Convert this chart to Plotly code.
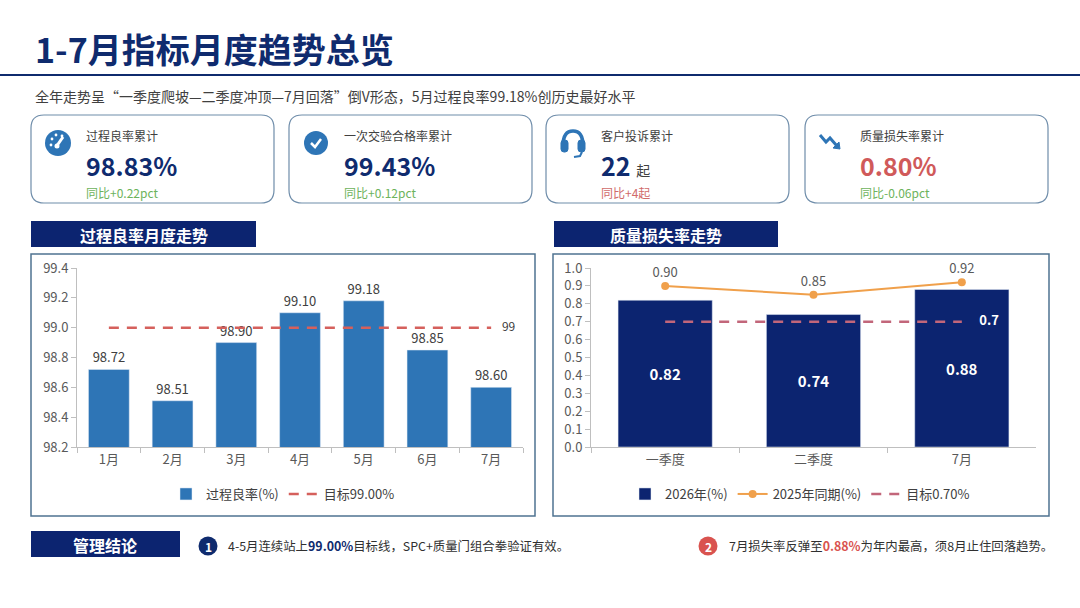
import plotly.graph_objects as go

# ---- data ----
months = ['1月', '2月', '3月', '4月', '5月', '6月', '7月']
yield_rate = [98.72, 98.51, 98.90, 99.10, 99.18, 98.85, 98.60]
yield_target = 99.0

periods = ['一季度', '二季度', '7月']
loss_2026 = [0.82, 0.74, 0.88]
loss_2025 = [0.90, 0.85, 0.92]
loss_target = 0.7

kpi_names = ['过程良率累计', '一次交验合格率累计', '客户投诉累计', '质量损失率累计']
kpi_values = ['98.83%', '99.43%', '22', '0.80%']
kpi_units = ['', '', '起', '']
kpi_changes = ['同比+0.22pct', '同比+0.12pct', '同比+4起', '同比-0.06pct']

W, H = 1080, 608
NAVY = '#0F2B6E'
BLUE = '#2E75B6'
BAR_NAVY = '#0C2470'
RED = '#D9534F'
GREEN = '#6DB35C'
GREY = '#595959'
FONT = 'Noto Sans CJK SC'


def px(x):
    return x / W


def py(y):
    return 1 - y / H


def pt(x, y):
    return f'{px(x):.5f},{py(y):.5f}'


def rrect(x0, y0, x1, y1, r):
    return ('M ' + pt(x0 + r, y0) + ' L ' + pt(x1 - r, y0) + ' Q ' + pt(x1, y0) + ' ' + pt(x1, y0 + r)
            + ' L ' + pt(x1, y1 - r) + ' Q ' + pt(x1, y1) + ' ' + pt(x1 - r, y1)
            + ' L ' + pt(x0 + r, y1) + ' Q ' + pt(x0, y1) + ' ' + pt(x0, y1 - r)
            + ' L ' + pt(x0, y0 + r) + ' Q ' + pt(x0, y0) + ' ' + pt(x0 + r, y0) + ' Z')


shapes = []
annotations = []


def rect(x0, y0, x1, y1, fill=None, line=None, lw=1.5):
    shapes.append(dict(type='rect', xref='paper', yref='paper', x0=px(x0), x1=px(x1), y0=py(y1), y1=py(y0),
                       fillcolor=fill or 'rgba(0,0,0,0)', line=dict(color=line or 'rgba(0,0,0,0)', width=lw if line else 0),
                       layer='below'))


def circle(cx, cy, r, fill, line=None, lw=0):
    shapes.append(dict(type='circle', xref='paper', yref='paper', x0=px(cx - r), x1=px(cx + r),
                       y0=py(cy + r), y1=py(cy - r), fillcolor=fill,
                       line=dict(color=line or fill, width=lw), layer='above'))


def seg(points, color, width, fill=None):
    path = 'M ' + ' L '.join(pt(x, y) for x, y in points)
    if fill:
        path += ' Z'
    shapes.append(dict(type='path', xref='paper', yref='paper', path=path,
                       line=dict(color=color, width=width), fillcolor=fill or 'rgba(0,0,0,0)', layer='above'))


def text(x, y, s, size=12, color='#404040', anchor='left', bold=False):
    annotations.append(dict(xref='paper', yref='paper', x=px(x), y=py(y), text=f'<b>{s}</b>' if bold else s,
                            showarrow=False, xanchor=anchor, yanchor='middle',
                            font=dict(size=size, color=color, family=FONT)))


# ---- header ----
text(33, 48, '1-7月指标月度趋势总览', size=34, color=NAVY, bold=True)
shapes.append(dict(type='line', xref='paper', yref='paper', x0=0, x1=1, y0=py(75), y1=py(75),
                   line=dict(color=NAVY, width=2)))
text(33, 96, '全年走势呈“一季度爬坡—二季度冲顶—7月回落”倒V形态，5月过程良率99.18%创历史最好水平',
     size=14, color='#404040')

# ---- KPI cards ----
card_x = [31, 289, 546, 805]
value_colors = [NAVY, NAVY, NAVY, '#D05A5A']
change_colors = [GREEN, GREEN, '#D06A6A', GREEN]
for i, x0 in enumerate(card_x):
    shapes.append(dict(type='path', xref='paper', yref='paper', path=rrect(x0, 115, x0 + 243, 203, 13),
                       fillcolor='white', line=dict(color='#6F8DAA', width=1.2), layer='below'))
    text(x0 + 53, 135, kpi_names[i], size=12)
    val = f'<b>{kpi_values[i]}</b>'
    if kpi_units[i]:
        val += f' <span style="font-size:14px;color:#404040">{kpi_units[i]}</span>'
    text(x0 + 53, 165, val, size=25, color=value_colors[i])
    text(x0 + 53, 193, kpi_changes[i], size=12, color=change_colors[i])

# icon 1: gauge
circle(58, 143, 13, BLUE)
for dx, dy in [(-7, 2), (-6, -4), (-2, -8), (4, -7)]:
    circle(58 + dx, 143 + dy, 1.4, 'white')
seg([(56, 147), (63, 137)], 'white', 3)
circle(57, 146, 2.5, 'white')
# icon 2: check
circle(316, 143, 12, BLUE)
seg([(311, 143), (315, 147), (321, 139)], 'white', 2.5)
# icon 3: headset
shapes.append(dict(type='path', xref='paper', yref='paper',
                   path='M ' + pt(563, 146) + ' Q ' + pt(563, 131) + ' ' + pt(573, 131) + ' Q ' + pt(583, 131) + ' ' + pt(583, 146),
                   line=dict(color=BLUE, width=3.5), layer='above'))
shapes.append(dict(type='path', xref='paper', yref='paper', path=rrect(561, 140, 568, 152, 3),
                   fillcolor=BLUE, line=dict(color=BLUE, width=1), layer='above'))
shapes.append(dict(type='path', xref='paper', yref='paper', path=rrect(578, 140, 585, 152, 3),
                   fillcolor=BLUE, line=dict(color=BLUE, width=1), layer='above'))
seg([(582, 152), (580, 156), (574, 157)], BLUE, 2)
# icon 4: trending down arrow
seg([(820, 135), (826, 142), (830, 138), (837, 146)], BLUE, 3)
seg([(833, 148), (840, 149), (839, 142)], BLUE, 1, fill=BLUE)

# ---- section headers & panels ----
rect(31, 221, 256, 247, fill='#0C2470')
text(144, 235, '过程良率月度走势', size=16, color='white', anchor='center', bold=True)
rect(554, 221, 778, 247, fill='#0C2470')
text(666, 235, '质量损失率走势', size=16, color='white', anchor='center', bold=True)
rect(31, 254, 535, 516, line='#4F7391', lw=1.5)
rect(553, 254, 1049, 516, line='#4F7391', lw=1.5)

# ---- conclusions ----
rect(31, 531, 180, 557, fill='#0C2470')
text(105, 545, '管理结论', size=16, color='white', anchor='center', bold=True)
circle(208, 546, 9.5, NAVY)
text(208, 546, '1', size=12, color='white', anchor='center', bold=True)
text(226, 546, f'4-5月连续站上<b><span style="color:{NAVY}">99.00%</span></b>目标线，SPC+质量门组合拳验证有效。',
     size=12.4, color='#303030')
circle(708, 546, 9.5, RED)
text(708, 546, '2', size=12, color='white', anchor='center', bold=True)
text(727, 546, f'7月损失率反弹至<b><span style="color:{RED}">0.88%</span></b>为年内最高，须8月止住回落趋势。',
     size=12.4, color='#303030')

# ---- traces ----
fig = go.Figure()
fig.add_trace(go.Bar(x=months, y=yield_rate, name='过程良率(%)', marker_color=BLUE, width=0.64,
                     texttemplate='%{y:.2f}', textposition='outside', cliponaxis=False,
                     textfont=dict(size=13, color='#404040'), xaxis='x', yaxis='y', legend='legend'))
fig.add_trace(go.Scatter(x=months, y=[yield_target] * len(months), name='目标99.00%', mode='lines+text',
                         text=[''] * (len(months) - 1) + [f'    {yield_target:g}'], textposition='middle right',
                         textfont=dict(size=12, color='#404040'), cliponaxis=False,
                         line=dict(color='#D5605C', width=2.5, dash='10px,8px'),
                         xaxis='x', yaxis='y', legend='legend'))

fig.add_trace(go.Bar(x=periods, y=loss_2026, name='2026年(%)', marker_color=BAR_NAVY, width=0.635,
                     texttemplate='<b>%{y:.2f}</b>', textposition='inside', insidetextanchor='middle',
                     textfont=dict(size=15, color='white'), xaxis='x2', yaxis='y2', legend='legend2'))
fig.add_trace(go.Scatter(x=periods, y=loss_2025, name='2025年同期(%)', mode='lines+markers+text',
                         texttemplate='%{y:.2f}', textposition='top center', cliponaxis=False,
                         textfont=dict(size=13, color=GREY),
                         line=dict(color='#F0A04B', width=2), marker=dict(size=8, color='#F0A04B'),
                         xaxis='x2', yaxis='y2', legend='legend2'))
fig.add_trace(go.Scatter(x=periods, y=[loss_target] * len(periods), name='目标0.70%', mode='lines+text',
                         text=[''] * (len(periods) - 1) + [f'      <b>{loss_target:g}</b>'], textposition='middle right',
                         textfont=dict(size=13, color='white'), cliponaxis=False,
                         line=dict(color='#C2667A', width=2.5, dash='10px,8px'),
                         xaxis='x2', yaxis='y2', legend='legend2'))

axis_common = dict(showline=True, linecolor='#BFBFBF', linewidth=1, ticks='outside', ticklen=5,
                   tickcolor='#BFBFBF', showgrid=False, zeroline=False, automargin=False,
                   tickfont=dict(size=13, color=GREY, family=FONT))
ydom = [py(447), py(268)]

fig.update_layout(
    width=W, height=H,
    margin=dict(l=0, r=0, t=0, b=0, pad=0, autoexpand=False),
    paper_bgcolor='white', plot_bgcolor='rgba(0,0,0,0)',
    font=dict(family=FONT, color='#404040'),
    xaxis=dict(domain=[px(77), px(523)], anchor='y', type='category', tickson='boundaries', **axis_common),
    yaxis=dict(domain=ydom, anchor='x', range=[98.2, 99.4], dtick=0.2, tickformat='.1f', **axis_common),
    xaxis2=dict(domain=[px(591), px(1036)], anchor='y2', type='category', tickson='boundaries', **axis_common),
    yaxis2=dict(domain=ydom, anchor='x2', range=[0, 1.0], dtick=0.1, tickformat='.1f', **axis_common),
    legend=dict(orientation='h', x=px(283), y=py(494), xanchor='center', yanchor='middle',
                font=dict(size=13, color='#404040'), bgcolor='rgba(0,0,0,0)', itemwidth=30),
    legend2=dict(orientation='h', x=px(800), y=py(494), xanchor='center', yanchor='middle',
                 font=dict(size=13, color='#404040'), bgcolor='rgba(0,0,0,0)', itemwidth=30),
    shapes=shapes,
    annotations=annotations,
    showlegend=True,
    bargap=0.36,
)

# page fills the window exactly: no body margin, no scrollbars
fig.write_html('out.html', config={'displayModeBar': False},
               post_script="document.body.style.margin='0';document.body.style.overflow='hidden';")
